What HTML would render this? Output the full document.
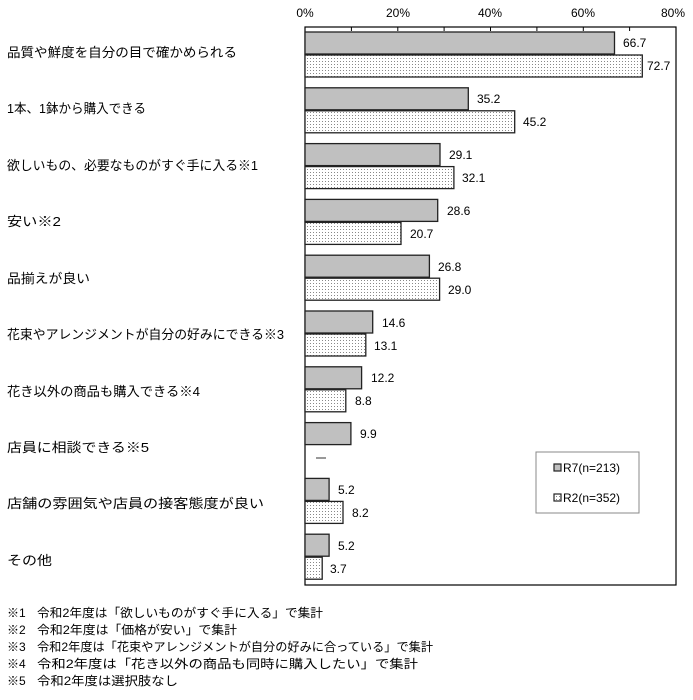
<!DOCTYPE html>
<html><head><meta charset="utf-8"><style>
html,body{margin:0;padding:0;background:#fff;}
svg{display:block;}
text{font-family:"Liberation Sans","Noto Sans CJK JP",sans-serif;fill:#000;}
</style></head><body>
<svg width="693" height="700" viewBox="0 0 693 700" xmlns="http://www.w3.org/2000/svg">
<defs>
<pattern id="dots" width="3" height="3" patternUnits="userSpaceOnUse">
<rect width="3" height="3" fill="#fff"/>
<rect x="1" y="1" width="1" height="1" fill="#888"/>
</pattern>
</defs>
<!-- axis labels -->
<g font-size="12" text-anchor="middle">
<text x="305" y="17">0%</text>
<text x="398" y="17">20%</text>
<text x="490" y="17">40%</text>
<text x="583" y="17">60%</text>
<text x="673" y="17">80%</text>
</g>
<!-- plot frame -->
<rect x="305" y="27" width="371" height="558" fill="none" stroke="#000" stroke-width="1.2"/>
<g stroke="#000" stroke-width="1">
<line x1="351.4" y1="27" x2="351.4" y2="31"/>
<line x1="397.8" y1="27" x2="397.8" y2="31"/>
<line x1="444.1" y1="27" x2="444.1" y2="31"/>
<line x1="490.5" y1="27" x2="490.5" y2="31"/>
<line x1="536.9" y1="27" x2="536.9" y2="31"/>
<line x1="583.3" y1="27" x2="583.3" y2="31"/>
<line x1="629.6" y1="27" x2="629.6" y2="31"/>
</g>
<g stroke="#222" stroke-width="1.3">
<!-- cat 0 top 27 -->
<rect x="305" y="32" width="309.5" height="22" fill="#c0c0c0"/>
<rect x="305" y="55" width="337.3" height="22" fill="url(#dots)"/>
<rect x="305" y="87.8" width="163.3" height="22" fill="#c0c0c0"/>
<rect x="305" y="110.8" width="209.7" height="22" fill="url(#dots)"/>
<rect x="305" y="143.6" width="135" height="22" fill="#c0c0c0"/>
<rect x="305" y="166.6" width="148.9" height="22" fill="url(#dots)"/>
<rect x="305" y="199.4" width="132.7" height="22" fill="#c0c0c0"/>
<rect x="305" y="222.4" width="96" height="22" fill="url(#dots)"/>
<rect x="305" y="255.2" width="124.4" height="22" fill="#c0c0c0"/>
<rect x="305" y="278.2" width="134.6" height="22" fill="url(#dots)"/>
<rect x="305" y="311" width="67.7" height="22" fill="#c0c0c0"/>
<rect x="305" y="334" width="60.8" height="22" fill="url(#dots)"/>
<rect x="305" y="366.8" width="56.6" height="22" fill="#c0c0c0"/>
<rect x="305" y="389.8" width="40.8" height="22" fill="url(#dots)"/>
<rect x="305" y="422.6" width="45.9" height="22" fill="#c0c0c0"/>
<rect x="305" y="478.4" width="24.1" height="22" fill="#c0c0c0"/>
<rect x="305" y="501.4" width="38" height="22" fill="url(#dots)"/>
<rect x="305" y="534.2" width="24.1" height="22" fill="#c0c0c0"/>
<rect x="305" y="557.2" width="17.2" height="22" fill="url(#dots)"/>
</g>
<line x1="316" y1="458" x2="326" y2="458" stroke="#555" stroke-width="1.2"/>
<!-- value labels -->
<g font-size="12">
<text x="623" y="47">66.7</text>
<text x="647" y="70">72.7</text>
<text x="477" y="103">35.2</text>
<text x="523" y="126">45.2</text>
<text x="449" y="159">29.1</text>
<text x="462" y="182">32.1</text>
<text x="447" y="215">28.6</text>
<text x="410" y="238">20.7</text>
<text x="438" y="271">26.8</text>
<text x="448" y="294">29.0</text>
<text x="382" y="327">14.6</text>
<text x="374" y="350">13.1</text>
<text x="371" y="382">12.2</text>
<text x="355" y="405">8.8</text>
<text x="360" y="438">9.9</text>
<text x="338" y="494">5.2</text>
<text x="352" y="517">8.2</text>
<text x="338" y="550">5.2</text>
<text x="330" y="573">3.7</text>
</g>
<!-- legend -->
<rect x="536" y="452" width="103" height="61" fill="#fff" stroke="#888" stroke-width="1"/>
<rect x="554" y="464" width="7" height="7" fill="#c0c0c0" stroke="#222" stroke-width="1.2"/>
<rect x="554" y="494" width="7" height="7" fill="url(#dots)" stroke="#222" stroke-width="1.2"/>
<g font-size="12">
<text x="563" y="472">R7(n=213)</text>
<text x="563" y="502">R2(n=352)</text>
</g>
<!-- category labels -->
<g font-size="13" lengthAdjust="spacingAndGlyphs">
<text x="7" y="57" textLength="230" lengthAdjust="spacingAndGlyphs">品質や鮮度を自分の目で確かめられる</text>
<text x="7" y="113" textLength="139" lengthAdjust="spacingAndGlyphs">1本、1鉢から購入できる</text>
<text x="7" y="170" textLength="251" lengthAdjust="spacingAndGlyphs">欲しいもの、必要なものがすぐ手に入る※1</text>
<text x="7" y="226" textLength="54" lengthAdjust="spacingAndGlyphs">安い※2</text>
<text x="7" y="283" textLength="83" lengthAdjust="spacingAndGlyphs">品揃えが良い</text>
<text x="7" y="339" textLength="277" lengthAdjust="spacingAndGlyphs">花束やアレンジメントが自分の好みにできる※3</text>
<text x="7" y="396" textLength="193" lengthAdjust="spacingAndGlyphs">花き以外の商品も購入できる※4</text>
<text x="7" y="452" textLength="142" lengthAdjust="spacingAndGlyphs">店員に相談できる※5</text>
<text x="7" y="508" textLength="257" lengthAdjust="spacingAndGlyphs">店舗の雰囲気や店員の接客態度が良い</text>
<text x="7" y="565" textLength="45" lengthAdjust="spacingAndGlyphs">その他</text>
</g>
<!-- footnotes -->
<g font-size="12">
<text x="7" y="617">※1</text>
<text x="37" y="617" textLength="286" lengthAdjust="spacingAndGlyphs">令和2年度は「欲しいものがすぐ手に入る」で集計</text>
<text x="7" y="634">※2</text>
<text x="37" y="634" textLength="200" lengthAdjust="spacingAndGlyphs">令和2年度は「価格が安い」で集計</text>
<text x="7" y="651">※3</text>
<text x="37" y="651" textLength="396" lengthAdjust="spacingAndGlyphs">令和2年度は「花束やアレンジメントが自分の好みに合っている」で集計</text>
<text x="7" y="668">※4</text>
<text x="37" y="668" textLength="381" lengthAdjust="spacingAndGlyphs">令和2年度は「花き以外の商品も同時に購入したい」で集計</text>
<text x="7" y="685">※5</text>
<text x="37" y="685" textLength="141" lengthAdjust="spacingAndGlyphs">令和2年度は選択肢なし</text>
</g>
</svg>
</body></html>
